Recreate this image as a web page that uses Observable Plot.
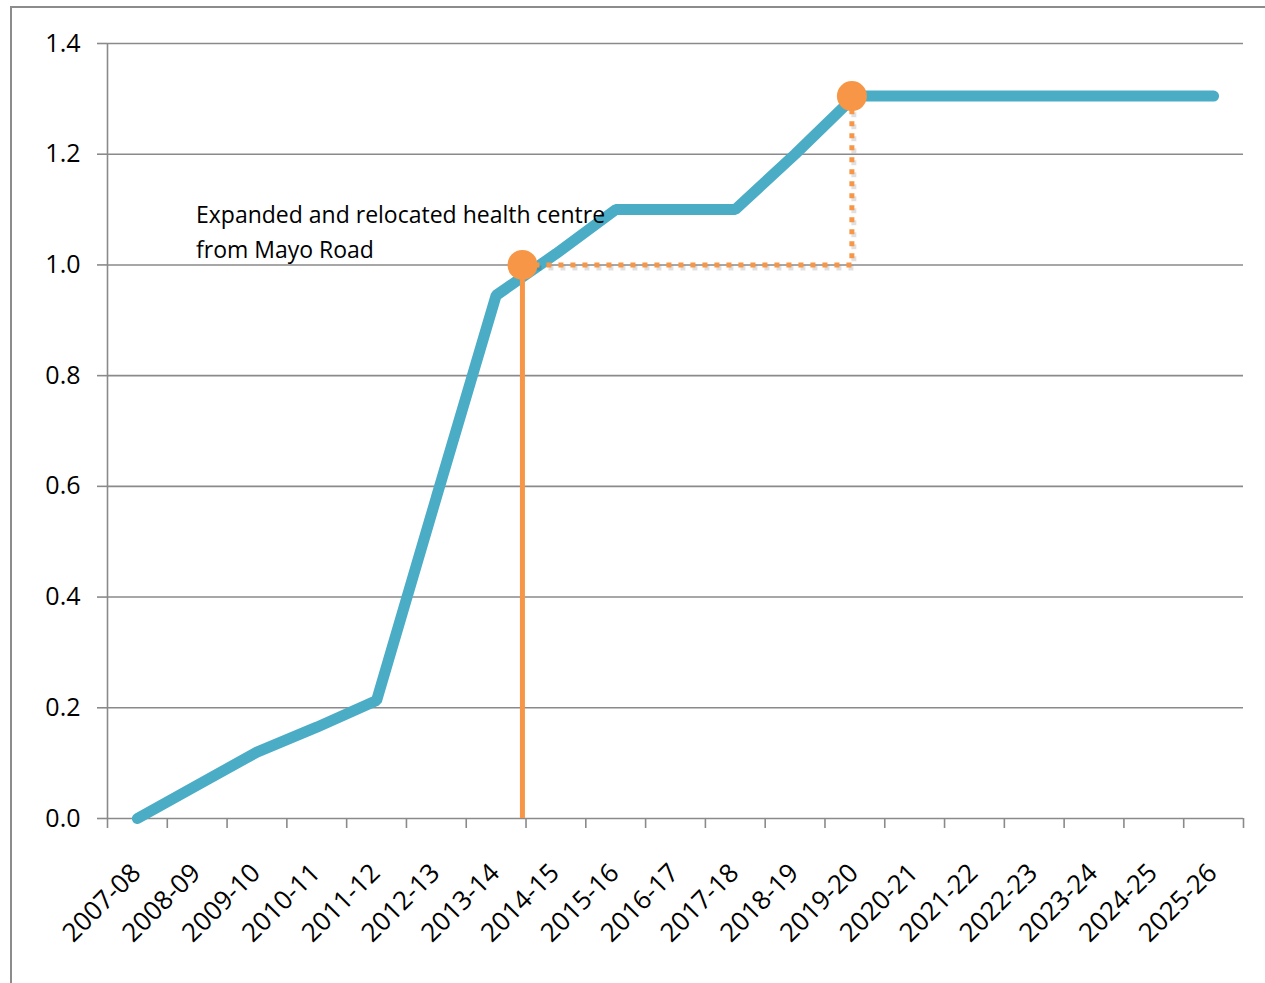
<!DOCTYPE html>
<html>
<head>
<meta charset="utf-8">
<script src="https://cdn.jsdelivr.net/npm/d3@7"></script>
<script src="https://cdn.jsdelivr.net/npm/@observablehq/plot@0.6"></script>
<style>
  html, body { margin: 0; padding: 0; background: #fff; }
  #wrap { position: relative; width: 1265px; height: 983px; overflow: hidden; }
  #border { position: absolute; left: 10px; top: 6px; width: 1400px; height: 1100px;
            border-left: 2px solid #8c8c8c; border-top: 2px solid #8c8c8c; pointer-events: none; }
</style>
</head>
<body>
<div id="wrap"><div id="chart"></div><div id="border"></div></div>
<script>
// Categories (fiscal years)
const categories = ["2007-08","2008-09","2009-10","2010-11","2011-12","2012-13","2013-14",
  "2014-15","2015-16","2016-17","2017-18","2018-19","2019-20","2020-21","2021-22",
  "2022-23","2023-24","2024-25","2025-26"];
// Series values
const values = [0, 0.06, 0.12, 0.165, 0.213, 0.58, 0.945, 1.02, 1.1, 1.1, 1.1, 1.2,
  1.305, 1.305, 1.305, 1.305, 1.305, 1.305, 1.305];
// Orange markers (x in category-index units, y value)
const markerX = [6.44, 11.95];
const markerY = [1.0, 1.305];
// Y tick values
const yTicks = [0, 0.2, 0.4, 0.6, 0.8, 1.0, 1.2, 1.4];
// Annotation
const noteText = "Expanded and relocated health centre\nfrom Mayo Road";
const noteX = [0.98];
const noteY = [1.064];

const series = categories.map((c, i) => ({i, c, v: values[i]}));
const boundaries = d3.range(categories.length + 1).map(k => k - 0.5);
const gray = "#8a8a8a";
const teal = "#4BACC6";
const orange = "#F79646";

const dotted = [
  {x: markerX[0], y: markerY[0]},
  {x: markerX[1], y: markerY[0]},
  {x: markerX[1], y: markerY[1]}
];

const chart = Plot.plot({
  width: 1265,
  height: 983,
  marginLeft: 107,
  marginRight: 22,
  marginTop: 43,
  marginBottom: 165,
  style: {fontFamily: "'Open Sans', sans-serif", fontSize: "24px", color: "#000", background: "transparent", overflow: "visible"},
  x: {type: "linear", domain: [-0.5, categories.length - 0.5]},
  y: {domain: [0, 1.4]},
  marks: [
    Plot.gridY(yTicks.slice(1), {stroke: gray, strokeOpacity: 1, strokeWidth: 1.6}),
    Plot.axisY(yTicks, {tickSize: 10, tickPadding: 17, tickFormat: d => d.toFixed(1),
      stroke: gray, strokeWidth: 1.6, fill: "#000", fontSize: 25, label: null}),
    Plot.axisX(boundaries, {tickSize: 10, tickFormat: () => "", stroke: gray, strokeWidth: 1.6, label: null}),
    Plot.axisX(d3.range(categories.length), {tickSize: 0, tickRotate: -45, tickPadding: 50, dx: -1,
      tickFormat: i => categories[i], fill: "#000", fontSize: 26, label: null}),
    Plot.ruleY([0], {stroke: gray, strokeWidth: 1.6}),
    Plot.ruleX([-0.5], {y1: 0, y2: 1.4, stroke: gray, strokeWidth: 1.6}),
    Plot.line(series, {x: "i", y: "v", stroke: teal, strokeWidth: 11, strokeLinecap: "round", strokeLinejoin: "miter"}),
    Plot.text([noteText], {x: noteX, y: noteY, textAnchor: "start", lineAnchor: "middle",
      fontSize: 23, lineHeight: 1.52, fill: "#000"}),
    Plot.ruleX([markerX[0]], {y1: 0, y2: markerY[0], stroke: orange, strokeWidth: 5}),
    Plot.line(dotted, {x: "x", y: "y", stroke: "#000", strokeOpacity: 0.12, strokeWidth: 5,
      strokeDasharray: "5,7", strokeLinecap: "butt", strokeLinejoin: "miter", dx: 2, dy: 3}),
    Plot.line(dotted, {x: "x", y: "y", stroke: orange, strokeWidth: 5,
      strokeDasharray: "5,7", strokeLinecap: "butt", strokeLinejoin: "miter"}),
    Plot.dot(markerX.map((x, k) => ({x, y: markerY[k]})), {x: "x", y: "y", r: 15, fill: orange, stroke: "none"})
  ]
});
document.getElementById("chart").appendChild(chart);
</script>
</body>
</html>
